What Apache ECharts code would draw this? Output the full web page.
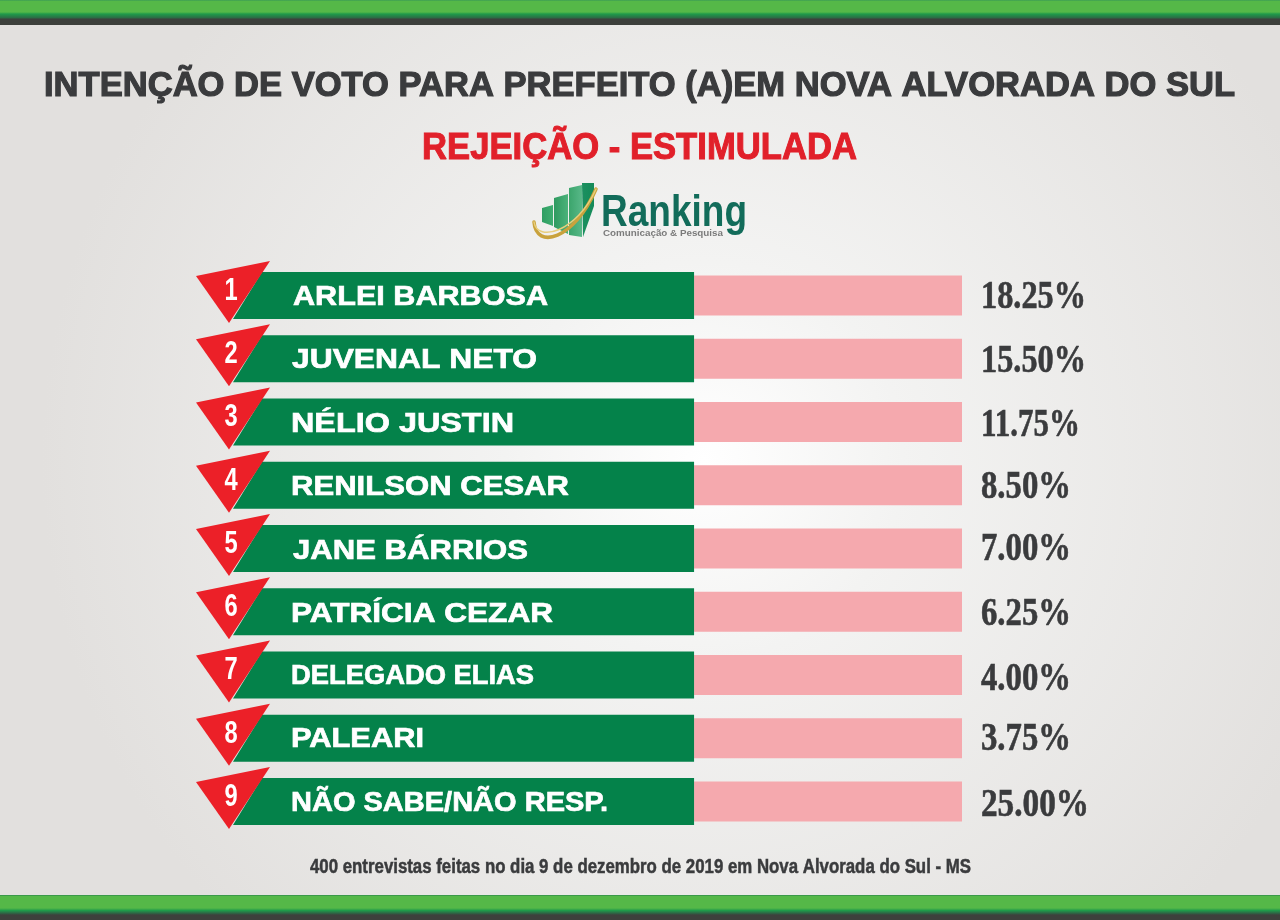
<!DOCTYPE html>
<html>
<head>
<meta charset="utf-8">
<title>Rejeição - Estimulada</title>
<style>
  html, body { margin: 0; padding: 0; background: #e4e2e0; }
  #chart { width: 1280px; height: 920px; }
</style>
</head>
<body>
<div id="chart"></div>
<script src="https://cdn.jsdelivr.net/npm/echarts@6/dist/echarts.min.js"></script>
<script>
const categories = ['ARLEI BARBOSA', 'JUVENAL NETO', 'NÉLIO JUSTIN', 'RENILSON CESAR', 'JANE BÁRRIOS',
  'PATRÍCIA CEZAR', 'DELEGADO ELIAS', 'PALEARI', 'NÃO SABE/NÃO RESP.'];
const rejection = [18.25, 15.50, 11.75, 8.50, 7.00, 6.25, 4.00, 3.75, 25.00];
// in the picture every pink bar has the same length, whatever the percentage
const barLength = [100, 100, 100, 100, 100, 100, 100, 100, 100];
const nameEnd = 63.3; // where the green part stops on the x axis

const titleText = 'INTENÇÃO DE VOTO PARA PREFEITO (A)EM NOVA ALVORADA DO SUL';
const subtitleText = 'REJEIÇÃO - ESTIMULADA';
const footerText = '400 entrevistas feitas no dia 9 de dezembro de 2019 em Nova Alvorada do Sul - MS';

// text was placed by hand in the original, so each row is a little different
const nameLeft = [293, 292, 291, 291, 293, 291, 291, 291, 291];
const nameWidth = [255, 245, 223, 278, 235, 262, 243, 133, 317];
const nameShift = [2, 2, 3, 3, 3, 3, 2, 2, 2];
const valueWidth = [105, 105, 99, 90, 90, 90, 90, 90, 108];
const valueShift = [3, 3, 4, 3, 2, 3, 5, 2, 5];

const SANS = '"Liberation Sans", Arial, sans-serif';
const SERIF = '"Liberation Serif", serif';
const DARK = '#3a3b3d';

// horizontal squeeze so that a text fills the width it has in the picture
const measure = document.createElement('canvas').getContext('2d');
function fit(text, font, width) {
  measure.font = font;
  return width / measure.measureText(text).width;
}

function stretched(text, left, cy, width, size, family, color, weight) {
  const font = 'bold ' + size + 'px ' + family;
  return {
    type: 'text',
    x: left,
    y: cy,
    scaleX: fit(text, font, width),
    silent: true,
    style: {
      text: text,
      x: 0,
      y: 0,
      font: font,
      fill: color,
      stroke: weight ? color : null,
      lineWidth: weight || 0,
      align: 'left',
      verticalAlign: 'middle'
    }
  };
}

function band(top, stops) {
  return {
    type: 'rect',
    silent: true,
    shape: { x: 0, y: top, width: 1280, height: 25 },
    style: {
      fill: new echarts.graphic.LinearGradient(0, 0, 0, 1, stops)
    }
  };
}

function logoBar(points, c1, c2) {
  return {
    type: 'polygon',
    silent: true,
    shape: { points: points },
    style: { fill: new echarts.graphic.LinearGradient(0, 0, 1, 0, [
      { offset: 0, color: c1 }, { offset: 1, color: c2 }
    ]) }
  };
}

function swoosh(cp1, cp2, w, color) {
  return {
    type: 'bezierCurve',
    silent: true,
    shape: { x1: 534, y1: 222, cpx1: cp1[0], cpy1: cp1[1], cpx2: cp2[0], cpy2: cp2[1], x2: 596, y2: 189 },
    style: { stroke: color, lineWidth: w, fill: 'none', lineCap: 'round' }
  };
}

function renderRow(params, api) {
  const idx = params.dataIndex;
  const p0 = api.coord([0, idx]);
  const pSplit = api.coord([nameEnd, idx]);
  const pEnd = api.coord([api.value(0), idx]);
  const x0 = p0[0];
  const cy = p0[1];
  const name = stretched(categories[idx], nameLeft[idx], cy + nameShift[idx], nameWidth[idx], 28, SANS, '#fff', 0.7);
  const value = stretched(api.value(2).toFixed(2) + '%', pEnd[0] + 19, cy + valueShift[idx], valueWidth[idx], 40, SERIF, DARK, 0.6);
  return {
    type: 'group',
    children: [
      {
        type: 'rect',
        shape: { x: pSplit[0], y: cy - 19.5, width: pEnd[0] - pSplit[0], height: 40 },
        style: { fill: '#f5a9ae' }
      },
      {
        type: 'polygon',
        shape: { points: [[x0 + 30, cy - 23], [pSplit[0], cy - 23], [pSplit[0], cy + 24], [x0 + 1, cy + 24]] },
        style: { fill: '#04824a' }
      },
      {
        type: 'polygon',
        shape: { points: [[x0 - 36, cy - 19], [x0 + 38, cy - 34], [x0 - 3, cy + 28]] },
        style: { fill: '#ec2028' }
      },
      {
        type: 'text',
        x: x0 - 1,
        y: cy - 4,
        scaleX: 0.74,
        style: { text: String(idx + 1), x: 0, y: 0, font: 'bold 32px ' + SANS, fill: '#fff', align: 'center', verticalAlign: 'middle' }
      },
      name,
      value
    ]
  };
}

const chart = echarts.init(document.getElementById('chart'), null, { renderer: 'canvas' });

chart.setOption({
  animation: false,
  backgroundColor: new echarts.graphic.RadialGradient(0.55, 0.5, 0.72, [
    { offset: 0, color: '#ffffff' },
    { offset: 0.3, color: '#f3f3f2' },
    { offset: 1, color: '#e2e0de' }
  ]),
  grid: { left: 232, width: 730, top: 263.4, height: 569.25, containLabel: false },
  xAxis: { type: 'value', min: 0, max: 100, show: false },
  yAxis: { type: 'category', data: categories, inverse: true, show: false },
  series: [{
    type: 'custom',
    coordinateSystem: 'cartesian2d',
    silent: true,
    encode: { x: 0, y: 1 },
    data: rejection.map((v, i) => [barLength[i], i, v]),
    renderItem: renderRow
  }],
  graphic: { elements: [
    band(0, [
      { offset: 0, color: '#3c9d55' }, { offset: 0.06, color: '#55b848' }, { offset: 0.48, color: '#55b848' },
      { offset: 0.56, color: '#1f9a4a' }, { offset: 0.72, color: '#2c6a45' }, { offset: 0.76, color: '#3d403c' },
      { offset: 1, color: '#3d403c' }
    ]),
    band(895, [
      { offset: 0, color: '#2c8a4a' }, { offset: 0.06, color: '#55b848' }, { offset: 0.52, color: '#55b848' },
      { offset: 0.62, color: '#1f9a4a' }, { offset: 0.72, color: '#2c6a45' }, { offset: 0.8, color: '#3d403c' },
      { offset: 1, color: '#3d403c' }
    ]),
    stretched(titleText, 44, 86, 1191, 35, SANS, DARK, 1.2),
    stretched(subtitleText, 422, 149, 435, 36, SANS, '#e1202a', 1),
    logoBar([[542, 208], [553, 205], [553, 226], [542, 222]], '#2f9e63', '#3fae70'),
    logoBar([[554, 198], [568, 194], [568, 234], [554, 227]], '#2f9a60', '#4bb27a'),
    logoBar([[569, 188], [582, 185], [582, 237], [569, 235]], '#3ba56c', '#58b888'),
    logoBar([[582, 183], [594, 183], [594, 206], [583, 237]], '#1c9060', '#148a58'),
    swoosh([536, 250], [574, 240], 3.5, '#c9a23c'),
    swoosh([537, 243], [577, 232], 1.5, '#e8cf7c'),
    stretched('Ranking', 601, 214, 146, 44, SANS, '#126c5a'),
    stretched('Comunicação & Pesquisa', 603, 234, 120, 9, SANS, '#7b7b7b'),
    stretched(footerText, 310, 867, 661, 20, SANS, DARK, 0.5)
  ] }
});
</script>
</body>
</html>
